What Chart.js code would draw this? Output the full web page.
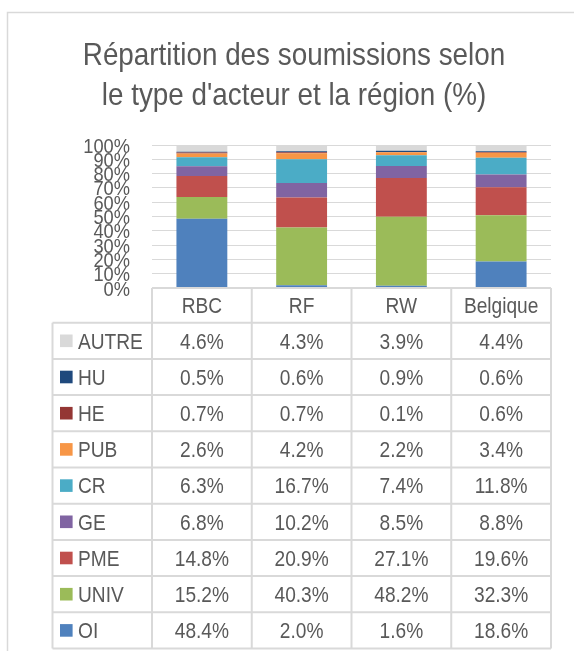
<!DOCTYPE html>
<html>
<head>
<meta charset="utf-8">
<script src="https://cdn.jsdelivr.net/npm/chart.js@4/dist/chart.umd.min.js"></script>
<style>
  html, body { margin: 0; padding: 0; background: #ffffff; }
  canvas { display: block; }
</style>
</head>
<body>
<canvas id="c" width="574" height="651"></canvas>
<script>
// ---- Data ----
const categories = ['RBC', 'RF', 'RW', 'Belgique'];
const OI    = [48.4, 2.0, 1.6, 18.6];
const UNIV  = [15.2, 40.3, 48.2, 32.3];
const PME   = [14.8, 20.9, 27.1, 19.6];
const GE    = [6.8, 10.2, 8.5, 8.8];
const CR    = [6.3, 16.7, 7.4, 11.8];
const PUB   = [2.6, 4.2, 2.2, 3.4];
const HE    = [0.7, 0.7, 0.1, 0.6];
const HU    = [0.5, 0.6, 0.9, 0.6];
const AUTRE = [4.6, 4.3, 3.9, 4.4];
const seriesNames = ['OI', 'UNIV', 'PME', 'GE', 'CR', 'PUB', 'HE', 'HU', 'AUTRE'];
const seriesData  = [OI, UNIV, PME, GE, CR, PUB, HE, HU, AUTRE];
const seriesColors = ['#4F81BD', '#9BBB59', '#C0504D', '#8064A2', '#4BACC6', '#F79646', '#943634', '#1F497D', '#D9D9D9'];
const yTickValues = [0, 10, 20, 30, 40, 50, 60, 70, 80, 90, 100];
const yTickLabels = ['0%', '10%', '20%', '30%', '40%', '50%', '60%', '70%', '80%', '90%', '100%'];
const titleLines = ['Répartition des soumissions selon', "le type d'acteur et la région (%)"];

// ---- Styles ----
const TEXT = '#595959';
const LINE = '#d9d9d9';
const FONT = '"Liberation Sans", Arial, sans-serif';
const SQ = 0.87; // horizontal text compression

function drawText(ctx, txt, x, y, size, align) {
  ctx.save();
  ctx.font = size + 'px ' + FONT;
  ctx.fillStyle = TEXT;
  ctx.textBaseline = 'alphabetic';
  ctx.textAlign = align;
  ctx.translate(x, y);
  ctx.scale(SQ, 1);
  ctx.fillText(txt, 0, 0);
  ctx.restore();
}

const decor = {
  id: 'decor',
  afterDraw(chart) {
    const ctx = chart.ctx;
    const area = chart.chartArea;
    const xs = chart.scales.x;
    const ys = chart.scales.y;

    // outer frame
    ctx.save();
    ctx.strokeStyle = LINE;
    ctx.lineWidth = 1.5;
    ctx.beginPath();
    ctx.moveTo(7.5, 660);
    ctx.lineTo(7.5, 12.5);
    ctx.lineTo(600, 12.5);
    ctx.stroke();
    ctx.restore();

    // title
    drawText(ctx, titleLines[0], 294, 65, 32, 'center');
    drawText(ctx, titleLines[1], 294, 105, 32, 'center');

    // y tick labels
    yTickValues.forEach((v, i) => {
      const py = ys.getPixelForValue(v);
      drawText(ctx, yTickLabels[i], 130, py + 0.358 * 21, 21, 'right');
    });

    // table
    const n = categories.length;
    const catW = (area.right - area.left) / n;
    const colEdges = [];
    for (let i = 0; i <= n; i++) colEdges.push(xs.getPixelForValue(0) - catW / 2 + i * catW);
    const headTop = area.bottom;
    const headH = 34.7;
    const rowH = 36.2;
    const leftX = 52.5;
    const rows = seriesNames.slice().reverse();
    const rowData = seriesData.slice().reverse();
    const rowColors = seriesColors.slice().reverse();
    const tableBottom = headTop + headH + rows.length * rowH;

    ctx.save();
    ctx.strokeStyle = LINE;
    ctx.lineWidth = 2;
    ctx.beginPath();
    // header top line
    ctx.moveTo(colEdges[0], headTop);
    ctx.lineTo(colEdges[n], headTop);
    // vertical category lines
    colEdges.forEach(x => {
      ctx.moveTo(x, headTop);
      ctx.lineTo(x, tableBottom);
    });
    // left column vertical
    ctx.moveTo(leftX, headTop + headH);
    ctx.lineTo(leftX, tableBottom);
    // horizontal row lines
    for (let r = 0; r <= rows.length; r++) {
      const y = headTop + headH + r * rowH;
      ctx.moveTo(leftX, y);
      ctx.lineTo(colEdges[n], y);
    }
    ctx.stroke();
    ctx.restore();

    // header labels
    categories.forEach((c, i) => {
      const cx = xs.getPixelForValue(i);
      drawText(ctx, c, cx, headTop + headH / 2 + 0.358 * 22, 22, 'center');
    });

    // rows
    rows.forEach((name, r) => {
      const cy = headTop + headH + r * rowH + rowH / 2;
      ctx.fillStyle = rowColors[r];
      ctx.fillRect(60, cy - 6.3, 12.6, 12.6);
      drawText(ctx, name, 78, cy + 0.358 * 22, 22, 'left');
      rowData[r].forEach((v, i) => {
        const cx = xs.getPixelForValue(i);
        drawText(ctx, v.toFixed(1) + '%', cx, cy + 0.358 * 22, 22, 'center');
      });
    });
  }
};

const datasets = seriesNames.map((name, i) => ({
  label: name,
  data: seriesData[i],
  backgroundColor: seriesColors[i],
  borderWidth: 0,
  barPercentage: 1,
  categoryPercentage: 0.51
}));

new Chart(document.getElementById('c'), {
  type: 'bar',
  data: { labels: categories, datasets },
  options: {
    responsive: false,
    animation: false,
    devicePixelRatio: 1,
    layout: { padding: { left: 152, right: 23, top: 145, bottom: 363 } },
    plugins: {
      legend: { display: false },
      title: { display: false },
      tooltip: { enabled: false }
    },
    scales: {
      x: {
        stacked: true,
        display: false
      },
      y: {
        stacked: true,
        min: 0,
        max: 100,
        afterFit(s) { s.width = 0; },
        afterBuildTicks(s) { s.ticks = yTickValues.map(v => ({ value: v })); },
        ticks: { display: false },
        border: { display: false },
        grid: { color: LINE, lineWidth: 1, drawTicks: false }
      }
    }
  },
  plugins: [decor]
});
</script>
</body>
</html>
